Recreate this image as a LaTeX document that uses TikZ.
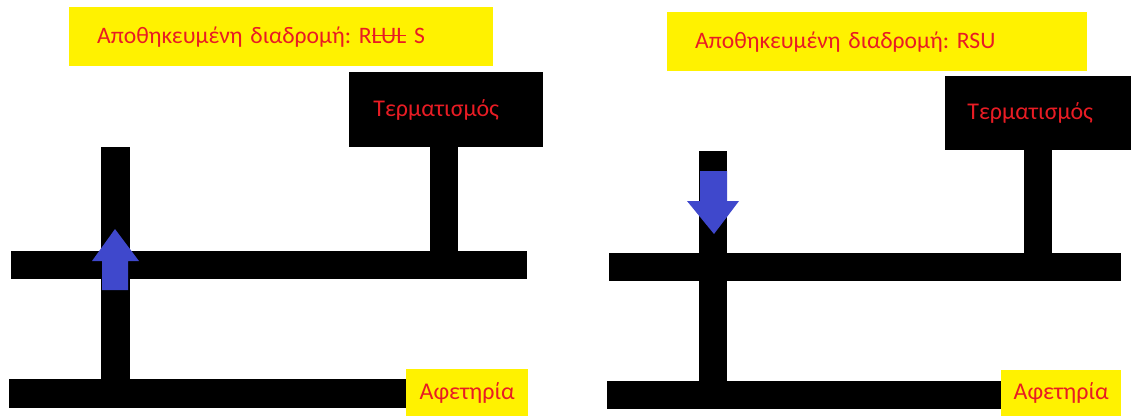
\documentclass[tikz,border=0pt]{standalone}
\usepackage{fontspec}
\setmainfont{Carlito}
\usepackage{tikz}
\usetikzlibrary{positioning}

\definecolor{signyellow}{RGB}{255,242,0}
\definecolor{signred}{RGB}{232,28,36}
\definecolor{moveblue}{RGB}{63,72,204}

% struck-out letters of the route
\newcommand\strk[1]{\leavevmode\setbox0\hbox{#1}%
  \rlap{\rule[0.3em]{\wd0}{1.5pt}}\box0\relax}

\begin{document}
\begin{tikzpicture}[
      x=1pt, y=-1pt,
      road/.style  = {fill=black},
      route/.style = {rectangle, fill=signyellow, text=signred,
                      anchor=north west, align=left,
                      inner xsep=28pt, inner ysep=0pt,
                      font=\fontsize{23.6}{28}\selectfont\frenchspacing},
      goal/.style  = {rectangle, fill=black, text=signred,
                      anchor=north west, inner sep=0pt,
                      font=\fontsize{24}{28}\selectfont},
      start/.style = {rectangle, fill=signyellow, text=signred,
                      anchor=north west, inner sep=0pt,
                      font=\fontsize{24}{28}\selectfont},
      move/.style  = {fill=moveblue}
    ]
    \useasboundingbox (0,0) rectangle (1131,416);

    % left maze
    \node[route, text width=368pt, minimum height=59pt] (memL) at (69,7)
         {Αποθηκευμένη διαδρομή: R\strk{LUL} S};
    \node[goal, minimum width=194pt, minimum height=75pt] (endL) at (349,72)
         {\hspace*{-20pt}Τερματισμός};
    \fill[road] (430,147) rectangle (458,251);
    \fill[road] (11,251) rectangle (527,279);
    \fill[road] (101,147) rectangle (130,379);
    \fill[road] (9,379) rectangle (406,408);
    \node[start, minimum width=122pt, minimum height=47pt] (startL) at (406,369)
         {Αφετηρία};
    \fill[move] (102,290) -- (102,261) -- (92,261) -- (115,229)
                -- (139,261) -- (128,261) -- (128,290) -- cycle;

    % right maze
    \node[route, text width=364pt, minimum height=59pt] (memR) at (667,12)
         {Αποθηκευμένη διαδρομή: RSU};
    \node[goal, minimum width=186pt, minimum height=74pt] (endR) at (945,76)
         {\hspace*{-16pt}Τερματισμός};
    \fill[road] (1024,150) rectangle (1052,253);
    \fill[road] (609,253) rectangle (1121,281);
    \fill[road] (699,151) rectangle (727,381);
    \fill[road] (607,381) rectangle (1001,409);
    \node[start, minimum width=120pt, minimum height=46pt] (startR) at (1001,370)
         {Αφετηρία};
    \fill[move] (700,171) -- (700,201) -- (687,201) -- (714,234)
                -- (739,201) -- (727,201) -- (727,171) -- cycle;
  \end{tikzpicture}
\end{document}
